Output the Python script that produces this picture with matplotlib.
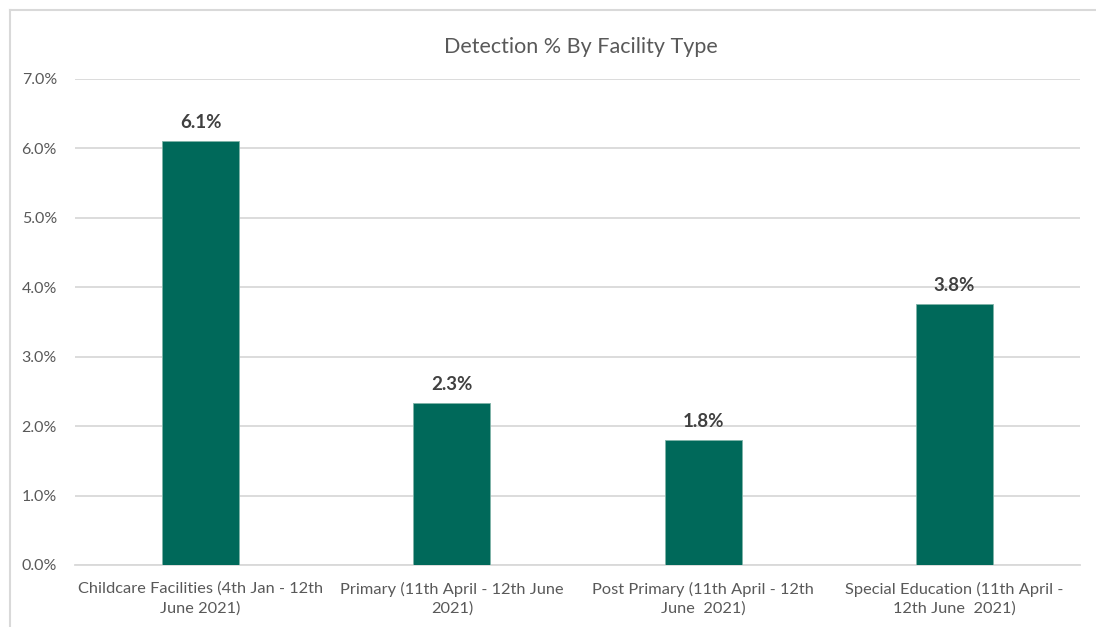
import matplotlib
matplotlib.use("Agg")
import matplotlib.pyplot as plt
from matplotlib.ticker import PercentFormatter, MultipleLocator
from matplotlib.lines import Line2D

categories = [
    "Childcare Facilities (4th Jan - 12th\nJune 2021)",
    "Primary (11th April - 12th June\n2021)",
    "Post Primary (11th April - 12th\nJune  2021)",
    "Special Education (11th April -\n12th June  2021)",
]
detection_pct = [6.1, 2.33, 1.8, 3.76]
value_labels = ["6.1%", "2.3%", "1.8%", "3.8%"]

BAR_COLOR = "#00695A"
GRID_COLOR = "#D9D9D9"
TEXT_COLOR = "#595959"

plt.rcParams["font.family"] = ["Lato", "DejaVu Sans"]

fig = plt.figure(figsize=(10.96, 6.27), dpi=100)
ax = fig.add_axes([75 / 1096, 1 - 565 / 627, 1005 / 1096, 486 / 627])

x = range(len(categories))
bars = ax.bar(x, detection_pct, width=0.307, color=BAR_COLOR, edgecolor="#7FB3A8",
              linewidth=0.6, zorder=3)

for bar, lab in zip(bars, value_labels):
    ax.annotate(lab, (bar.get_x() + bar.get_width() / 2, bar.get_height()),
                xytext=(0, 7.5), textcoords="offset points", ha="center", va="bottom",
                fontsize=13.5, fontweight="bold", color="#404040")

ax.set_xlim(-0.5, len(categories) - 0.5)
ax.set_ylim(0, 7.0)
ax.yaxis.set_major_locator(MultipleLocator(1.0))
ax.yaxis.set_major_formatter(PercentFormatter(decimals=1))
ax.grid(axis="y", color=GRID_COLOR, linewidth=1.3, zorder=0)
ax.set_xticks(list(x))
ax.set_xticklabels(categories, fontsize=11.8, color=TEXT_COLOR, linespacing=1.45)
ax.tick_params(axis="y", labelsize=11.5, labelcolor=TEXT_COLOR, length=0, pad=13)
ax.tick_params(axis="x", length=0, pad=12)
for side in ["top", "right", "left"]:
    ax.spines[side].set_visible(False)
ax.spines["bottom"].set_color(GRID_COLOR)
ax.spines["bottom"].set_linewidth(1.3)

fig.text(581 / 1096, 1 - 47 / 627, "Detection % By Facility Type", ha="center", va="center",
         fontsize=15.5, color=TEXT_COLOR)

# chart frame (top and left edges visible in the crop)
fig.add_artist(Line2D([9.5 / 1096, 1], [1 - 9.5 / 627, 1 - 9.5 / 627], color=GRID_COLOR,
                      linewidth=1.5, transform=fig.transFigure))
fig.add_artist(Line2D([9.5 / 1096, 9.5 / 1096], [0, 1 - 9.5 / 627], color=GRID_COLOR,
                      linewidth=1.5, transform=fig.transFigure))

fig.savefig("out.png", dpi=100)
